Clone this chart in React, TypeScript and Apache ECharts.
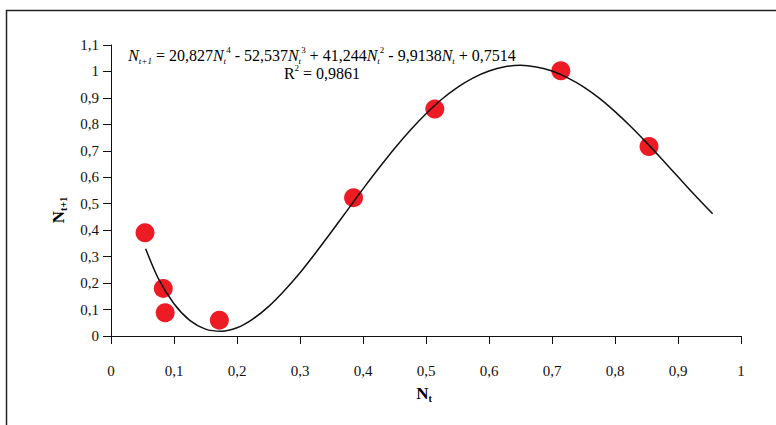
import React, { useEffect, useRef } from "react";
import * as echarts from "echarts";

const xTicksMin = 0;
const xTicksMax = 1;
const yTicksMin = 0;
const yTicksMax = 1.1;

const obsX = [0.054, 0.083, 0.086, 0.172, 0.385, 0.514, 0.714, 0.854];
const obsY = [0.39, 0.18, 0.088, 0.06, 0.523, 0.858, 1.003, 0.716];

const trendX = [
  0.055, 0.075, 0.1, 0.125, 0.15, 0.175, 0.2, 0.225, 0.25, 0.275, 0.3, 0.325, 0.35, 0.375,
  0.4, 0.425, 0.45, 0.475, 0.5, 0.525, 0.55, 0.575, 0.6, 0.625, 0.65, 0.675, 0.7, 0.725,
  0.75, 0.775, 0.8, 0.825, 0.85, 0.875, 0.9, 0.925, 0.955,
];
const trendY = [
  0.33, 0.218, 0.122, 0.059, 0.026, 0.018, 0.031, 0.064, 0.111, 0.171, 0.239, 0.315, 0.394, 0.475,
  0.556, 0.634, 0.709, 0.778, 0.84, 0.895, 0.94, 0.976, 1.002, 1.018, 1.023, 1.017, 1.002, 0.976,
  0.942, 0.899, 0.848, 0.792, 0.731, 0.667, 0.602, 0.537, 0.462,
];

const equationLine =
  "{i|N}{sub|t+1}{n| = 20,827}{i|N}{sub|t}{sup|4}{n| - 52,537}{i|N}{sub|t}{sup|3}{n| + 41,244}{i|N}{sub|t}{sup|2}{n| - 9,9138}{i|N}{sub|t}{n| + 0,7514}";
const r2Line = "{n|R}{sup|2}{n| = 0,9861}";

const FONT = "Liberation Serif";

function fmt(v: number) {
  return String(+v.toFixed(1)).replace(".", ",");
}

export default function App() {
  const ref = useRef<HTMLDivElement>(null);
  useEffect(() => {
    if (!ref.current) return;
    const chart = echarts.init(ref.current, null, { renderer: "svg" });
    const eqRich = {
      n: { fontSize: 16, fontFamily: FONT, color: "#111", lineHeight: 20 },
      i: { fontSize: 16, fontFamily: FONT, fontStyle: "italic", color: "#111", lineHeight: 20 },
      sub: { fontSize: 9, fontFamily: FONT, fontStyle: "italic", color: "#111", lineHeight: 11, verticalAlign: "bottom" },
      sup: { fontSize: 9, fontFamily: FONT, color: "#111", lineHeight: 11, verticalAlign: "top" },
    };
    const nameRich = {
      b: { fontSize: 17, fontFamily: FONT, fontWeight: "bold", color: "#111", lineHeight: 20 },
      s: { fontSize: 10, fontFamily: FONT, fontWeight: "bold", color: "#111", lineHeight: 11, verticalAlign: "bottom" },
    };
    chart.setOption({
      animation: false,
      backgroundColor: "#ffffff",
      grid: { left: 111, right: 35, top: 45, bottom: 89, containLabel: false },
      xAxis: {
        type: "value",
        min: xTicksMin,
        max: xTicksMax,
        interval: 0.1,
        axisLine: { show: true, onZero: false, lineStyle: { color: "#111", width: 1 } },
        axisTick: { show: true, inside: false, length: 8, lineStyle: { color: "#111" } },
        axisLabel: { formatter: fmt, margin: 27, fontSize: 15, fontFamily: FONT, color: "#111" },
        splitLine: { show: false },
      },
      yAxis: {
        type: "value",
        min: yTicksMin,
        max: yTicksMax,
        interval: 0.1,
        axisLine: { show: true, onZero: false, lineStyle: { color: "#111", width: 1 } },
        axisTick: { show: true, inside: false, length: 8, lineStyle: { color: "#111" } },
        axisLabel: { formatter: fmt, margin: 12, fontSize: 15, fontFamily: FONT, color: "#111" },
        splitLine: { show: false },
      },
      graphic: [
        {
          type: "rect",
          shape: { x: 6.5, y: 10.5, width: 900, height: 600 },
          style: { fill: "none", stroke: "#222", lineWidth: 1.5 },
          silent: true,
          z: -10,
        },
        {
          type: "text",
          x: 322,
          y: 45,
          style: { text: equationLine, rich: eqRich, align: "center", verticalAlign: "top" },
        },
        {
          type: "text",
          x: 322,
          y: 63,
          style: { text: r2Line, rich: eqRich, align: "center", verticalAlign: "top" },
        },
        {
          type: "text",
          x: 58,
          y: 210,
          rotation: Math.PI / 2,
          style: { text: "{b|N}{s|t+1}", rich: nameRich, align: "center", verticalAlign: "middle" },
        },
        {
          type: "text",
          x: 424,
          y: 393,
          style: { text: "{b|N}{s|t}", rich: nameRich, align: "center", verticalAlign: "middle" },
        },
      ],
      series: [
        {
          type: "scatter",
          data: obsX.map((x, k) => [x, obsY[k]]),
          symbol: "circle",
          symbolSize: 19,
          itemStyle: { color: "#ED1C24", opacity: 1 },
          z: 2,
        },
        {
          type: "line",
          data: trendX.map((x, k) => [x, trendY[k]]),
          smooth: 0.3,
          showSymbol: false,
          symbol: "none",
          lineStyle: { color: "#111", width: 1.5 },
          z: 3,
        },
      ],
    });
    return () => chart.dispose();
  }, []);
  return (
    <div
      ref={ref}
      style={{ position: "absolute", left: 0, top: 0, width: 776, height: 425 }}
    />
  );
}
